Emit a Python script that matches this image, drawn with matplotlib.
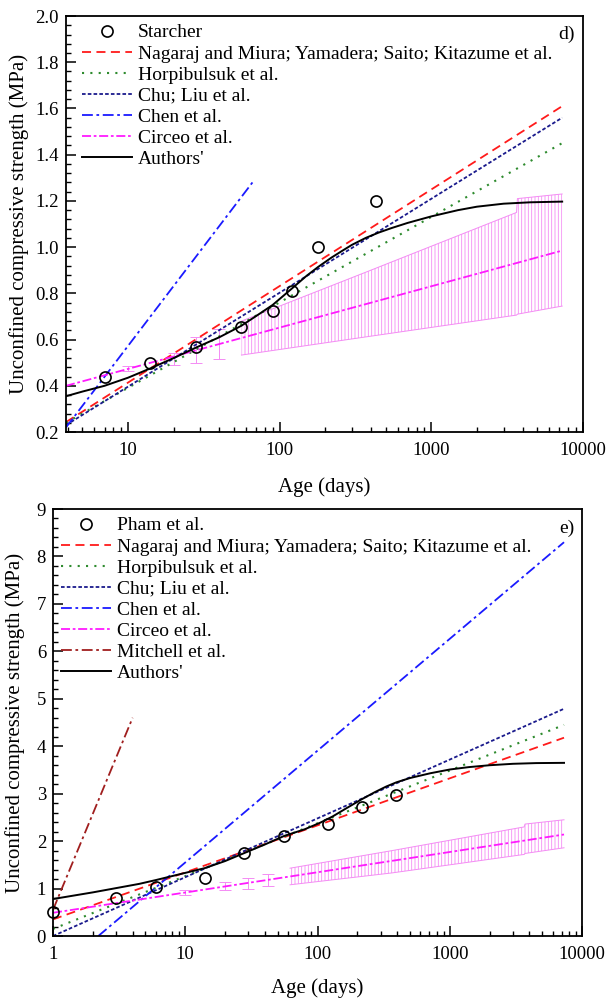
import numpy as np
import matplotlib.pyplot as plt
from matplotlib.ticker import MultipleLocator, LogLocator, NullFormatter

plt.rcParams['font.family'] = ['Liberation Serif', 'DejaVu Serif']
plt.rcParams['hatch.linewidth'] = 0.6

# ---- panel d) Starcher ----
d_days = [7, 14, 28, 56, 90, 120, 180, 430]
d_ucs = [0.44, 0.50, 0.57, 0.655, 0.725, 0.81, 1.0, 1.2]

d_line_t = [3.9, 7300]
d_nagaraj = [0.243, 1.61]
d_horpi = [0.24, 1.45]
d_chu = [0.23, 1.56]
d_chen_t = [3.9, 68]
d_chen = [0.22, 1.29]
d_circeo = [0.40, 0.985]

d_auth_t = [3.9, 5, 7, 10, 14, 20, 28, 40, 56, 75, 90, 120, 150, 180, 220, 260, 300, 370,
            450, 550, 700, 1000, 1500, 2000, 3000, 4500, 7300]
d_auth = [0.355, 0.375, 0.40, 0.435, 0.475, 0.52, 0.565, 0.61, 0.66, 0.715, 0.75, 0.82,
          0.875, 0.915, 0.955, 0.985, 1.01, 1.04, 1.063, 1.083, 1.105, 1.133, 1.16, 1.175,
          1.188, 1.194, 1.197]

# Circeo spread: a few error bars, then a dense band
d_bar_t = [10, 20, 28, 40]
d_bar_lo = [0.465, 0.49, 0.50, 0.515]
d_bar_hi = [0.485, 0.54, 0.61, 0.645]
d_band_t = [56, 365, 3650, 3700, 7300]
d_band_lo = [0.533, 0.611, 0.706, 0.71, 0.745]
d_band_hi = [0.68, 0.89, 1.15, 1.21, 1.23]

# ---- panel e) Pham et al. ----
e_days = [1, 3, 6, 14, 28, 56, 120, 215, 395]
e_ucs = [0.5, 0.80, 1.03, 1.22, 1.75, 2.11, 2.36, 2.71, 2.97]

e_line_t = [1, 7300]
e_nagaraj = [0.35, 4.18]
e_horpi = [0.15, 4.45]
e_chu = [0.0, 4.79]
e_chen_t = [2.2, 7300]
e_chen = [0.0, 8.3]
e_circeo = [0.49, 2.14]
e_mitch_t = [1, 4.0]
e_mitch = [0.55, 4.6]

e_auth_t = [1, 2, 3, 4.5, 6, 9, 14, 20, 28, 40, 56, 80, 105, 130, 160, 215, 270, 330, 395,
            500, 710, 1000, 1390, 2000, 3000, 4500, 7300]
e_auth = [0.78, 0.92, 1.01, 1.10, 1.18, 1.30, 1.43, 1.58, 1.75, 1.93, 2.11, 2.25, 2.39,
          2.52, 2.67, 2.88, 3.03, 3.15, 3.24, 3.33, 3.43, 3.51, 3.56, 3.60, 3.63, 3.645, 3.65]

e_bar_t = [10, 20, 30, 42]
e_bar_lo = [0.86, 0.96, 1.0, 1.05]
e_bar_hi = [0.97, 1.13, 1.22, 1.31]
e_band_t = [62, 365, 3650, 3700, 7300]
e_band_lo = [1.08, 1.33, 1.72, 1.74, 1.86]
e_band_hi = [1.43, 1.80, 2.30, 2.36, 2.45]

pink = '#f48cf4'
styles = {
    'nagaraj': dict(color='#ff1a1a', ls=(0, (5, 3)), lw=1.3),
    'horpi': dict(color='#2e8b2e', ls=(0, (1, 3)), lw=1.5),
    'chu': dict(color='#1a1a8c', ls=(0, (2, 1.2)), lw=1.3),
    'chen': dict(color='#1a1aff', ls=(0, (6, 2, 1.5, 2)), lw=1.3),
    'circeo': dict(color='#ff1aff', ls=(0, (5, 1.5, 1.5, 1.5)), lw=1.3),
    'mitch': dict(color='#a01e1e', ls=(0, (6, 2, 1.5, 2)), lw=1.3),
    'auth': dict(color='black', ls='-', lw=1.4),
}
nag_label = 'Nagaraj and Miura; Yamadera; Saito; Kitazume et al.'

fig = plt.figure(figsize=(6.11, 10.01), dpi=100)
ax1 = fig.add_axes([0.108, 0.5684, 0.846, 0.4156])
ax2 = fig.add_axes([0.0867, 0.0649, 0.866, 0.4266])


def draw_spread(ax, bt, blo, bhi, st, slo, shi):
    mid = [(a + b) / 2 for a, b in zip(blo, bhi)]
    err = [[m - a for m, a in zip(mid, blo)], [b - m for m, b in zip(mid, bhi)]]
    ax.errorbar(bt, mid, yerr=err, fmt='none', ecolor=pink, elinewidth=0.7,
                capsize=4, capthick=0.7, zorder=1)
    ax.fill_between(st, slo, shi, facecolor='none', edgecolor=pink, hatch='|||||',
                    linewidth=0, zorder=1)
    ax.plot(st, slo, color=pink, lw=0.7, zorder=1)
    ax.plot(st, shi, color=pink, lw=0.7, zorder=1)


# panel d
draw_spread(ax1, d_bar_t, d_bar_lo, d_bar_hi, d_band_t, d_band_lo, d_band_hi)
ax1.plot(d_days, d_ucs, 'o', mfc='none', mec='black', ms=8, mew=1.2, ls='none',
         label='Starcher', zorder=5)
ax1.plot(d_line_t, d_nagaraj, label=nag_label, **styles['nagaraj'])
ax1.plot(d_line_t, d_horpi, label='Horpibulsuk et al.', **styles['horpi'])
ax1.plot(d_line_t, d_chu, label='Chu; Liu et al.', **styles['chu'])
ax1.plot(d_chen_t, d_chen, label='Chen et al.', **styles['chen'])
ax1.plot(d_line_t, d_circeo, label='Circeo et al.', **styles['circeo'])
ax1.plot(d_auth_t, d_auth, label="Authors'", **styles['auth'])
ax1.set_xlim(3.9, 10000)
ax1.set_ylim(0.2, 2.0)
ax1.yaxis.set_major_locator(MultipleLocator(0.2))
ax1.yaxis.set_minor_locator(MultipleLocator(0.04))
ax1.yaxis.set_major_formatter(plt.FormatStrFormatter('%.1f'))
ax1.text(0.985, 0.955, 'd)', transform=ax1.transAxes, ha='right', va='center', fontsize=14)

# panel e
draw_spread(ax2, e_bar_t, e_bar_lo, e_bar_hi, e_band_t, e_band_lo, e_band_hi)
ax2.plot(e_days, e_ucs, 'o', mfc='none', mec='black', ms=8, mew=1.2, ls='none',
         label='Pham et al.', zorder=5, clip_on=False)
ax2.plot(e_line_t, e_nagaraj, label=nag_label, **styles['nagaraj'])
ax2.plot(e_line_t, e_horpi, label='Horpibulsuk et al.', **styles['horpi'])
ax2.plot(e_line_t, e_chu, label='Chu; Liu et al.', **styles['chu'])
ax2.plot(e_chen_t, e_chen, label='Chen et al.', **styles['chen'])
ax2.plot(e_line_t, e_circeo, label='Circeo et al.', **styles['circeo'])
ax2.plot(e_mitch_t, e_mitch, label='Mitchell et al.', **styles['mitch'])
ax2.plot(e_auth_t, e_auth, label="Authors'", **styles['auth'])
ax2.set_xlim(1, 10000)
ax2.set_ylim(0, 9)
ax2.yaxis.set_major_locator(MultipleLocator(1))
ax2.yaxis.set_minor_locator(MultipleLocator(0.2))
ax2.text(0.985, 0.955, 'e)', transform=ax2.transAxes, ha='right', va='center', fontsize=14)

for ax, lx, xl_y, leg_anchor in [(ax1, -0.072, -0.108, (0.015, 1.0)),
                                 (ax2, -0.052, -0.098, (0.0, 1.0))]:
    ax.set_xscale('log')
    ax.xaxis.set_major_locator(LogLocator(base=10))
    ax.xaxis.set_minor_locator(LogLocator(base=10, subs=np.arange(2, 10)))
    ax.xaxis.set_minor_formatter(NullFormatter())
    ax.xaxis.set_major_formatter(plt.FuncFormatter(lambda v, p: '%d' % round(v)))
    ax.tick_params(which='both', direction='in', top=False, right=False, labelsize=13.5)
    ax.tick_params(which='major', length=7, width=1.1)
    ax.tick_params(which='minor', length=3.5, width=1.0)
    ax.tick_params(axis='x', pad=7)
    ax.tick_params(axis='y', pad=5)
    for s in ax.spines.values():
        s.set_linewidth(1.3)
    ax.set_xlabel('Age (days)', fontsize=15)
    ax.set_ylabel('Unconfined compressive strength (MPa)', fontsize=15)
    ax.yaxis.set_label_coords(lx, 0.5)
    ax.xaxis.set_label_coords(0.5, xl_y)
    ax.legend(loc='upper left', bbox_to_anchor=leg_anchor, frameon=False, fontsize=14,
              handlelength=2.6, handletextpad=0.3, labelspacing=0.18, borderaxespad=0.2,
              borderpad=0.2)

fig.savefig('out.png', dpi=100)
